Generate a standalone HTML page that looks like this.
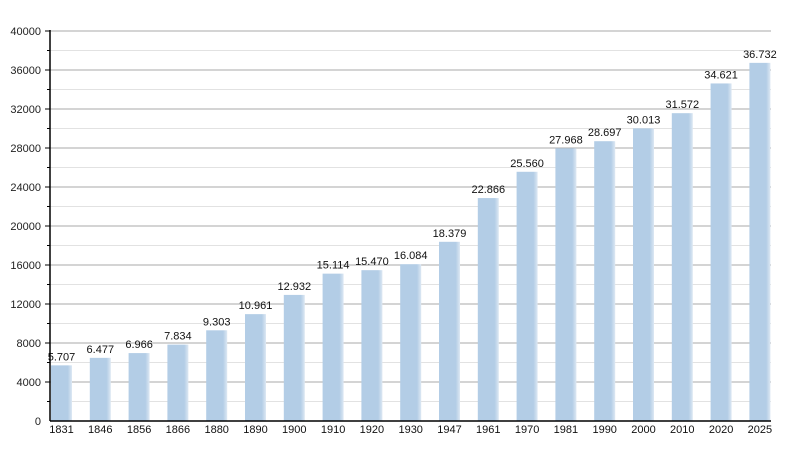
<!DOCTYPE html>
<html><head><meta charset="utf-8"><style>body{margin:0;background:#fff}svg{display:block;font-family:"Liberation Sans",sans-serif}</style></head><body>
<svg width="800" height="450" viewBox="0 0 800 450">
<defs><linearGradient id="g" x1="0" x2="1"><stop offset="0" stop-color="#b3cde6"/><stop offset="0.8" stop-color="#b3cde6"/><stop offset="1" stop-color="#dde8f3"/></linearGradient></defs>
<g id="grid"></g>
<g id="bars"></g>
<line x1="50" y1="30" x2="50" y2="421" stroke="#000" stroke-width="1.5"/>
<line x1="50" y1="421" x2="771" y2="421" stroke="#000" stroke-width="1.5"/>
<script>
var ns="http://www.w3.org/2000/svg",svg=document.querySelector('svg');
function el(t,a,p,txt){var e=document.createElementNS(ns,t);for(var k in a)e.setAttribute(k,a[k]);if(txt!=null)e.textContent=txt;(p||svg).appendChild(e);return e;}
var grid=document.getElementById('grid'),bars=document.getElementById('bars');
for(var v=2000;v<=40000;v+=2000){var y=421-v*0.00975;var maj=v%4000==0;
el('line',{x1:50,x2:771,y1:y,y2:y,stroke:maj?'#a8a8a8':'#e2e2e2','stroke-width':1},grid);
el('line',{x1:maj?45:47,x2:50,y1:y,y2:y,stroke:'#000'},grid);
if(maj)el('text',{x:41,y:y+4,'text-anchor':'end','font-size':11,fill:'#222'},grid,String(v));}
el('text',{x:41,y:425,'text-anchor':'end','font-size':11,fill:'#222'},grid,'0');
var yr=[1831,1846,1856,1866,1880,1890,1900,1910,1920,1930,1947,1961,1970,1981,1990,2000,2010,2020,2025];
var val=[5707,6477,6966,7834,9303,10961,12932,15114,15470,16084,18379,22866,25560,27968,28697,30013,31572,34621,36732];
for(var i=0;i<19;i++){var x=51+i*38.8,t=421-val[i]*0.00975;
el('rect',{x:x,y:t,width:21,height:421-t,fill:'url(#g)'},bars);
var s=String(val[i]);s=s.slice(0,s.length-3)+'.'+s.slice(-3);
el('text',{x:x+10.5,y:t-5,'text-anchor':'middle','font-size':11,fill:'#111'},bars,s);
el('text',{x:x+10.5,y:433,'text-anchor':'middle','font-size':11,fill:'#111'},bars,String(yr[i]));}
</script>
</svg>
</body></html>
